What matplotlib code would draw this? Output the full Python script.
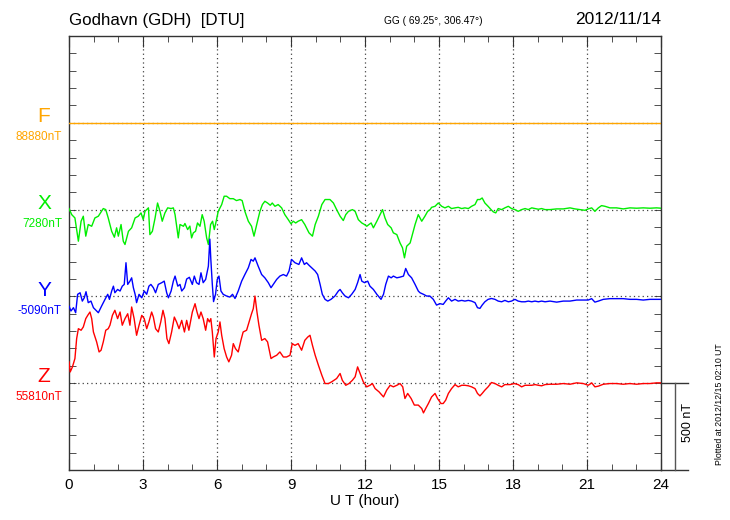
import numpy as np
import matplotlib.pyplot as plt

#%% Fonts / general params
plt.rcParams['font.family'] = ['Liberation Sans', 'DejaVu Sans']

#%% Data: (UT hour, deviation from baseline in nT)

station = 'Godhavn (GDH)  [DTU]'
coords = 'GG ( 69.25°, 306.47°)'
date = '2012/11/14'
plotted = 'Plotted at 2012/12/15 02:10 UT'

components = ['F', 'X', 'Y', 'Z']
baseline_labels = ['88880nT', '7280nT', '-5090nT', '55810nT']
offsets = [1500, 1000, 500, 0]  # nT offsets of each trace on the common axis
colors = ['#FFA500', '#00EE00', '#0000FF', '#FF0000']

F_pts = [(0, 0), (24, 0)]

X_pts = [(0, 6), (0.11, -29), (0.24, -48), (0.38, -182), (0.49, -67), (0.58, -38), (0.68, -153), (0.78, -86),
         (0.92, -96), (1.05, -48), (1.19, -38), (1.32, -10), (1.39, 6), (1.49, 0), (1.59, -48), (1.73, -125),
         (1.84, -159), (1.93, -105), (2.00, -153), (2.11, -86), (2.20, -182), (2.27, -201), (2.34, -163),
         (2.41, -125), (2.54, -105), (2.68, -48), (2.81, -38), (2.92, -19), (3.01, -58), (3.08, -10), (3.22, 10),
         (3.28, -144), (3.38, -125), (3.49, -48), (3.59, 38), (3.69, -10), (3.78, -67), (3.89, -19), (4.00, 10),
         (4.14, 6), (4.23, 10), (4.30, -29), (4.43, -163), (4.50, -86), (4.64, -96), (4.70, -80), (4.81, -115),
         (4.90, -95), (4.97, -163), (5.04, -134), (5.13, -125), (5.21, -77), (5.31, -96), (5.40, -29), (5.48, -67),
         (5.58, -163), (5.65, -201), (5.74, -86), (5.82, -67), (5.89, -115), (5.98, -58), (6.05, -10), (6.19, 29),
         (6.29, 77), (6.39, 77), (6.52, 63), (6.66, 63), (6.79, 52), (6.93, 58), (7.02, 52), (7.13, -10),
         (7.27, -67), (7.40, -96), (7.50, -153), (7.61, -86), (7.74, -10), (7.84, 29), (7.94, 48), (8.05, 38),
         (8.16, 25), (8.24, 38), (8.35, 19), (8.48, 29), (8.62, 10), (8.75, -29), (8.89, -58), (9.00, -82),
         (9.09, -67), (9.19, -77), (9.29, -67), (9.43, -58), (9.56, -86), (9.73, -134), (9.87, -153), (9.98, -86),
         (10.11, -38), (10.25, 29), (10.38, 58), (10.58, 58), (10.72, 38), (10.85, 0), (10.99, -38), (11.12, -63),
         (11.22, -29), (11.33, -10), (11.49, 0), (11.60, -10), (11.73, -58), (11.87, -77), (11.98, -86),
         (12.07, -96), (12.16, -86), (12.25, -77), (12.34, -105), (12.48, -67), (12.61, -29), (12.71, 0),
         (12.81, -48), (12.92, -86), (13.06, -105), (13.15, -134), (13.29, -144), (13.42, -192), (13.52, -220),
         (13.60, -278), (13.69, -211), (13.83, -192), (13.92, -144), (14.03, -86), (14.16, -29), (14.30, -67),
         (14.43, -38), (14.54, -10), (14.64, 0), (14.70, 13), (14.84, 19), (14.97, 38), (15.11, 19), (15.24, 10),
         (15.38, 19), (15.51, 6), (15.65, 10), (15.78, 13), (15.92, 6), (16.05, 10), (16.19, 6), (16.32, 19),
         (16.46, 29), (16.56, 58), (16.66, 58), (16.75, 67), (16.86, 38), (16.99, 19), (17.11, 0), (17.20, -13),
         (17.30, -19), (17.40, 6), (17.54, 0), (17.67, 10), (17.81, 19), (17.94, 6), (18.08, 0), (18.21, -10),
         (18.35, 0), (18.49, 6), (18.62, 0), (18.76, 10), (18.89, 6), (19.03, 2), (19.16, 6), (19.30, 0),
         (19.5, 0), (19.77, 4), (20.04, 4), (20.31, 10), (20.51, 4), (20.72, 0), (20.92, -4), (21.05, 4),
         (21.19, 10), (21.32, -10), (21.46, 10), (21.59, 23), (21.73, 19), (21.93, 10), (22.2, 10), (22.47, 4),
         (22.74, 10), (23.01, 8), (23.28, 10), (23.55, 8), (23.82, 10), (24.0, 8)]

Y_pts = [(0, -56), (0.08, -84), (0.18, -65), (0.27, -94), (0.35, 12), (0.45, 21), (0.54, -27), (0.62, -8),
         (0.69, 27), (0.78, -36), (0.89, -27), (0.99, -65), (1.12, -84), (1.19, -94), (1.32, -56), (1.46, -17),
         (1.57, 12), (1.64, -17), (1.73, 31), (1.80, 59), (1.86, 21), (1.97, 40), (2.07, 31), (2.16, 59),
         (2.24, 69), (2.31, 194), (2.38, 69), (2.47, 88), (2.54, 107), (2.61, 50), (2.68, 12), (2.74, -36),
         (2.84, 12), (2.95, -8), (3.05, 31), (3.15, 12), (3.24, 59), (3.32, 69), (3.42, 50), (3.51, 21),
         (3.62, 69), (3.76, 79), (3.86, 88), (3.96, 21), (4.03, -8), (4.14, 31), (4.23, 88), (4.30, 117),
         (4.41, 59), (4.50, 69), (4.57, 31), (4.68, 50), (4.77, 100), (4.88, 110), (5.00, 69), (5.08, 117),
         (5.17, 79), (5.27, 69), (5.35, 136), (5.44, 79), (5.54, 98), (5.65, 174), (5.71, 330), (5.75, 213),
         (5.81, 69), (5.86, -30), (5.94, 12), (6.01, 98), (6.08, 117), (6.16, 31), (6.25, 12), (6.39, 2),
         (6.52, -4), (6.63, 12), (6.73, -12), (6.86, 31), (7.00, 88), (7.13, 126), (7.27, 165), (7.38, 213),
         (7.47, 203), (7.54, 222), (7.67, 174), (7.81, 126), (7.94, 107), (8.08, 79), (8.19, 50), (8.28, 69),
         (8.42, 98), (8.55, 117), (8.69, 126), (8.82, 117), (8.92, 146), (9.02, 213), (9.16, 194), (9.32, 184),
         (9.43, 222), (9.54, 184), (9.63, 194), (9.74, 178), (9.84, 165), (9.98, 146), (10.08, 126), (10.18, 69),
         (10.27, 12), (10.38, -17), (10.49, -27), (10.62, -17), (10.78, 2), (10.92, 31), (10.99, 40), (11.08, 21),
         (11.19, 2), (11.33, -8), (11.46, 12), (11.60, 40), (11.70, 79), (11.80, 126), (11.87, 88), (11.98, 79),
         (12.11, 88), (12.20, 59), (12.34, 40), (12.48, 12), (12.65, -17), (12.75, 12), (12.84, 69), (12.95, 117),
         (13.06, 107), (13.15, 117), (13.29, 107), (13.42, 111), (13.56, 117), (13.65, 161), (13.76, 126),
         (13.89, 107), (14.03, 69), (14.16, 31), (14.23, 21), (14.37, 12), (14.50, 2), (14.63, 2), (14.77, -17),
         (14.90, -50), (15.04, -42), (15.17, -46), (15.27, -27), (15.38, -8), (15.51, -27), (15.65, -17),
         (15.78, -27), (15.92, -23), (16.05, -27), (16.19, -23), (16.32, -27), (16.46, -36), (16.56, -65),
         (16.66, -69), (16.75, -50), (16.86, -31), (16.99, -17), (17.13, -12), (17.27, -17), (17.40, -27),
         (17.54, -31), (17.67, -23), (17.81, -31), (17.94, -27), (18.08, -17), (18.21, -27), (18.35, -31),
         (18.49, -31), (18.62, -27), (18.76, -31), (18.89, -27), (19.03, -31), (19.16, -27), (19.30, -31),
         (19.5, -27), (19.77, -33), (20.04, -27), (20.31, -27), (20.58, -21), (20.85, -21), (21.05, -21),
         (21.19, -13), (21.32, -33), (21.46, -27), (21.66, -17), (21.93, -13), (22.2, -13), (22.47, -13),
         (22.74, -17), (23.01, -17), (23.28, -21), (23.55, -17), (23.82, -17), (24.0, -17)]

Z_pts = [(0, 123), (0.05, 65), (0.14, 94), (0.24, 142), (0.31, 257), (0.38, 314), (0.49, 305), (0.58, 324),
         (0.68, 372), (0.76, 391), (0.85, 410), (0.92, 372), (0.99, 295), (1.12, 238), (1.22, 180), (1.30, 190),
         (1.39, 238), (1.49, 305), (1.59, 314), (1.66, 334), (1.76, 391), (1.86, 420), (1.97, 372), (2.07, 410),
         (2.16, 334), (2.27, 372), (2.38, 400), (2.47, 334), (2.54, 439), (2.64, 372), (2.74, 276), (2.84, 334),
         (2.95, 391), (3.05, 372), (3.15, 314), (3.24, 353), (3.35, 410), (3.42, 381), (3.51, 314), (3.62, 295),
         (3.72, 353), (3.81, 420), (3.89, 372), (3.97, 257), (4.05, 228), (4.16, 295), (4.27, 381), (4.36, 353),
         (4.46, 314), (4.57, 362), (4.68, 295), (4.77, 362), (4.86, 305), (5.00, 410), (5.11, 458), (5.19, 410),
         (5.27, 372), (5.35, 410), (5.44, 372), (5.54, 305), (5.62, 372), (5.69, 353), (5.75, 372), (5.81, 295),
         (5.89, 151), (5.96, 257), (6.05, 295), (6.12, 353), (6.19, 276), (6.29, 199), (6.39, 151), (6.48, 123),
         (6.59, 161), (6.66, 228), (6.75, 199), (6.86, 180), (6.97, 247), (7.06, 295), (7.20, 305), (7.34, 372),
         (7.40, 400), (7.47, 429), (7.54, 502), (7.62, 410), (7.70, 334), (7.81, 247), (7.94, 257), (8.05, 238),
         (8.19, 142), (8.28, 151), (8.42, 161), (8.55, 180), (8.69, 151), (8.82, 151), (8.96, 161), (9.05, 228),
         (9.16, 218), (9.29, 228), (9.43, 190), (9.56, 247), (9.68, 266), (9.77, 276), (9.87, 218), (9.98, 161),
         (10.11, 104), (10.25, 46), (10.38, -2), (10.52, -2), (10.65, 8), (10.85, 27), (10.99, 56), (11.08, 17),
         (11.22, -12), (11.35, -2), (11.49, 17), (11.60, 37), (11.70, 94), (11.80, 56), (11.93, 8), (12.07, -21),
         (12.20, -12), (12.30, -2), (12.41, -31), (12.57, -50), (12.75, -79), (12.88, -40), (13.02, -12),
         (13.15, -21), (13.29, -12), (13.42, -2), (13.53, -21), (13.62, -88), (13.73, -59), (13.87, -88),
         (14.00, -126), (14.16, -126), (14.30, -146), (14.37, -171), (14.46, -146), (14.57, -117), (14.70, -79),
         (14.84, -59), (14.94, -88), (15.08, -117), (15.17, -117), (15.27, -98), (15.38, -59), (15.51, -31),
         (15.65, -8), (15.78, -21), (15.92, -12), (16.05, -12), (16.19, -15), (16.32, -21), (16.46, -31),
         (16.56, -59), (16.66, -73), (16.75, -59), (16.86, -40), (16.99, -21), (17.13, 4), (17.27, -2),
         (17.40, -12), (17.54, -21), (17.67, -8), (17.88, -8), (18.05, -2), (18.21, -8), (18.35, -21),
         (18.49, -12), (18.62, -12), (18.76, -12), (18.89, -8), (19.03, -12), (19.16, -15), (19.30, -8),
         (19.5, -6), (19.77, -6), (20.04, -2), (20.31, -6), (20.58, 2), (20.85, -2), (21.05, -12), (21.19, 2),
         (21.32, -21), (21.46, -17), (21.66, -6), (21.93, -2), (22.2, -2), (22.47, -6), (22.74, -2), (23.01, -6),
         (23.28, -2), (23.55, -2), (23.82, 2), (24.0, 2)]

series = [F_pts, X_pts, Y_pts, Z_pts]

#%% Figure

W, H = 730, 520
fig = plt.figure(figsize=(W / 100, H / 100), dpi=100)
ax = fig.add_axes([69 / W, 1 - 470 / H, (661 - 69) / W, (470 - 36) / H])

ax.set_xlim(0, 24)
ax.set_ylim(-500, 2000)

# dotted grid: verticals every 3 h, horizontals at each baseline
for h in range(3, 24, 3):
    ax.axvline(h, color='#444444', ls=(0, (1, 2.5)), lw=0.9, zorder=1)
for off in offsets:
    ax.axhline(off, color='#444444', ls=(0, (1, 2.5)), lw=0.9, zorder=1)

for pts, off, col in zip(series, offsets, colors):
    arr = np.array(pts, dtype=float)
    ax.plot(arr[:, 0], arr[:, 1] + off, color=col, lw=1.0, zorder=3)

# ticks
ax.set_xticks(range(0, 25, 3))
ax.set_xticks(range(0, 25), minor=True)
ax.set_yticks([])
ax.set_yticks(range(-500, 2001, 100), minor=True)
ax.tick_params(axis='x', which='major', direction='in', length=8, top=True, labelsize=11, pad=6, color='#333333')
ax.tick_params(axis='x', which='minor', direction='in', length=4, top=True, color='#333333')
ax.tick_params(axis='y', which='minor', direction='in', length=5, right=True, color='#333333')
for s in ax.spines.values():
    s.set_color('#333333')
    s.set_linewidth(1.0)
ax.set_xlabel('U T (hour)', fontsize=11, labelpad=1)

# 500 nT scale bar to the right of the axes
ax.plot([24, 25.1], [0, 0], color='#333333', lw=1, clip_on=False)
ax.plot([24, 25.1], [-500, -500], color='#333333', lw=1, clip_on=False)
ax.plot([24.57, 24.57], [-500, 0], color='#555555', lw=1, clip_on=False)
fig.text(688 / W, 1 - 423 / H, '500 nT', rotation=90, ha='center', va='center', fontsize=9)
fig.text(720 / W, 1 - 404 / H, plotted, rotation=90, ha='center', va='center', fontsize=6.3)

# component letters and baseline values on the left
base_px = [123, 210, 297, 383]
for comp, lab, col, bp in zip(components, baseline_labels, colors, base_px):
    fig.text(44 / W, 1 - (bp - 6) / H, comp, color=col, ha='center', va='center', fontsize=15)
    fig.text(62 / W, 1 - (bp + 14) / H, lab, color=col, ha='right', va='center', fontsize=8.5)

# header
fig.text(69 / W, 1 - 20 / H, station, ha='left', va='center', fontsize=12.2)
fig.text(433 / W, 1 - 21 / H, coords, ha='center', va='center', fontsize=7.3)
fig.text(661 / W, 1 - 20 / H, date, ha='right', va='center', fontsize=12.5)

fig.savefig('out.png', dpi=100)
